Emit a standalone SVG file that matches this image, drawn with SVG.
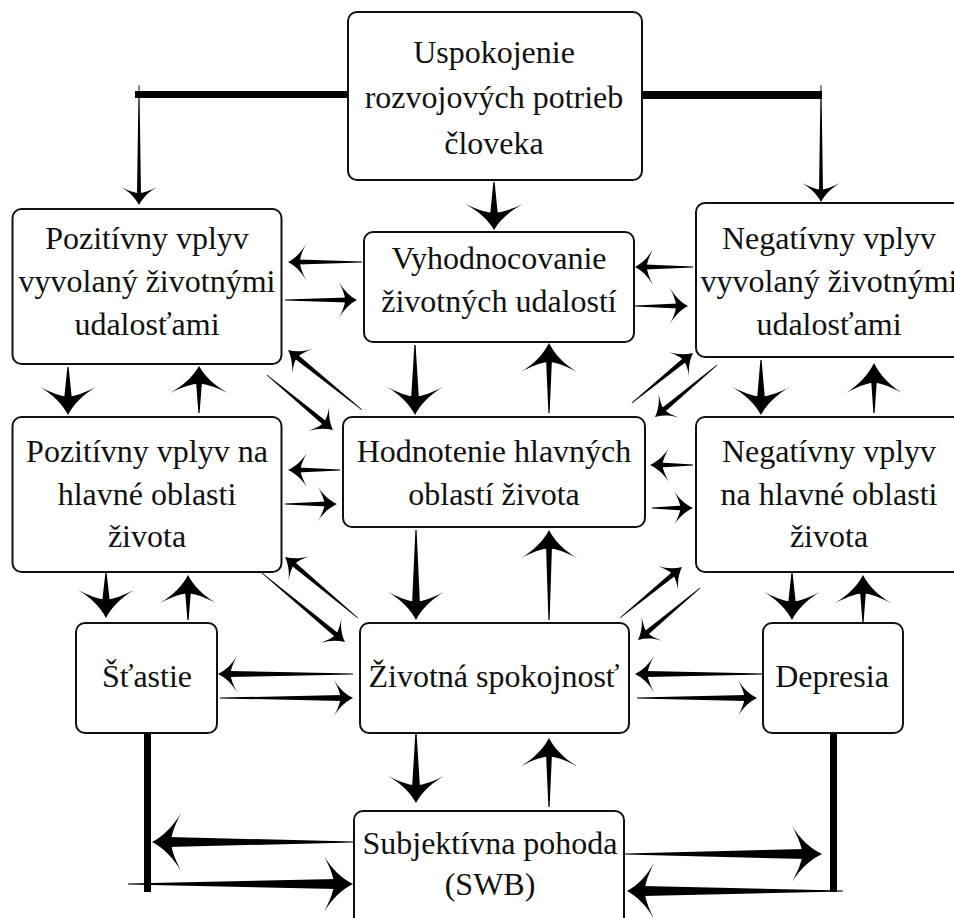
<svg xmlns="http://www.w3.org/2000/svg" xmlns:xlink="http://www.w3.org/1999/xlink" width="954" height="918" viewBox="0 0 954 918">
<style>
.box{fill:#fff;stroke:#111;stroke-width:2}
text{font-family:'Liberation Serif','Times New Roman',serif;font-size:32px;fill:#111;text-anchor:middle}
.c{fill:#000}
</style>
<defs>
<path id="h" d="M0,0 C-0.38,-0.2 -0.72,-0.52 -1,-1 C-0.8,-0.6 -0.68,-0.3 -0.65,0 C-0.68,0.3 -0.8,0.6 -1,1 C-0.72,0.52 -0.38,0.2 0,0Z"/>
</defs>
<rect width="954" height="918" fill="#fff"/>

<g id="connectors" class="c">
<rect x="135" y="91" width="213" height="7"/>
<rect x="642" y="91" width="180" height="8"/>
<rect x="144" y="733" width="7" height="159"/>
<rect x="830" y="730" width="7" height="162"/>
<g transform="translate(139,205) rotate(90)"><path d="M-120,-0.4 L-10,-2 L-10,2 L-120,0.4Z"/><use xlink:href="#h" transform="scale(18,18)"/></g>
<g transform="translate(821,202) rotate(90)"><path d="M-117,-0.4 L-10,-2 L-10,2 L-117,0.4Z"/><use xlink:href="#h" transform="scale(19,19)"/></g>
<g transform="translate(494,230) rotate(90)"><path d="M-48,-0.6 L-14,-4 L-14,4 L-48,0.6Z"/><use xlink:href="#h" transform="scale(26,29)"/></g>
<g transform="translate(288,262) rotate(180)"><path d="M-74,-0.4 L-10,-2.5 L-10,2.5 L-74,0.4Z"/><use xlink:href="#h" transform="scale(18,18)"/></g>
<g transform="translate(357,300)"><path d="M-72,-0.4 L-10,-2.5 L-10,2.5 L-72,0.4Z"/><use xlink:href="#h" transform="scale(18,18)"/></g>
<g transform="translate(635,267) rotate(180)"><path d="M-58,-0.4 L-10,-2.5 L-10,2.5 L-58,0.4Z"/><use xlink:href="#h" transform="scale(18,18)"/></g>
<g transform="translate(688,306)"><path d="M-53,-0.4 L-10,-2.5 L-10,2.5 L-53,0.4Z"/><use xlink:href="#h" transform="scale(18,18)"/></g>
<g transform="translate(68,415) rotate(90)"><path d="M-48,-0.6 L-15,-4 L-15,4 L-48,0.6Z"/><use xlink:href="#h" transform="scale(28,28)"/></g>
<g transform="translate(199,366) rotate(-90)"><path d="M-47,-0.6 L-15,-3 L-15,3 L-47,0.6Z"/><use xlink:href="#h" transform="scale(27,29)"/></g>
<g transform="translate(415,415) rotate(90)"><path d="M-70,-0.6 L-15,-4 L-15,4 L-70,0.6Z"/><use xlink:href="#h" transform="scale(28,28)"/></g>
<g transform="translate(549,343) rotate(-90)"><path d="M-70,-0.6 L-15,-3 L-15,3 L-70,0.6Z"/><use xlink:href="#h" transform="scale(29,28)"/></g>
<g transform="translate(761,415) rotate(90)"><path d="M-55,-0.6 L-15,-4 L-15,4 L-55,0.6Z"/><use xlink:href="#h" transform="scale(28,29)"/></g>
<g transform="translate(874,363) rotate(-90)"><path d="M-50,-0.6 L-15,-3 L-15,3 L-50,0.6Z"/><use xlink:href="#h" transform="scale(30,28)"/></g>
<g transform="translate(288,350) rotate(219)"><path d="M-95,-0.4 L-10,-2.5 L-10,2.5 L-95,0.4Z"/><use xlink:href="#h" transform="scale(18,16)"/></g>
<g transform="translate(333,430) rotate(39.8)"><path d="M-86,-0.4 L-10,-2.5 L-10,2.5 L-86,0.4Z"/><use xlink:href="#h" transform="scale(18,16)"/></g>
<g transform="translate(693,353) rotate(-39.3)"><path d="M-79,-0.4 L-10,-2.5 L-10,2.5 L-79,0.4Z"/><use xlink:href="#h" transform="scale(18,16)"/></g>
<g transform="translate(655,417) rotate(140)"><path d="M-81,-0.4 L-10,-2.5 L-10,2.5 L-81,0.4Z"/><use xlink:href="#h" transform="scale(18,16)"/></g>
<g transform="translate(288,470) rotate(180)"><path d="M-52,-0.4 L-10,-2.5 L-10,2.5 L-52,0.4Z"/><use xlink:href="#h" transform="scale(19,17)"/></g>
<g transform="translate(337,504)"><path d="M-52,-0.4 L-10,-2.5 L-10,2.5 L-52,0.4Z"/><use xlink:href="#h" transform="scale(19,17)"/></g>
<g transform="translate(650,465) rotate(180)"><path d="M-43,-0.4 L-10,-2.5 L-10,2.5 L-43,0.4Z"/><use xlink:href="#h" transform="scale(19,17)"/></g>
<g transform="translate(693,508)"><path d="M-41,-0.4 L-10,-2.5 L-10,2.5 L-41,0.4Z"/><use xlink:href="#h" transform="scale(19,17)"/></g>
<g transform="translate(106,618) rotate(90)"><path d="M-45,-0.6 L-15,-4 L-15,4 L-45,0.6Z"/><use xlink:href="#h" transform="scale(28,28)"/></g>
<g transform="translate(188,575) rotate(-90)"><path d="M-45,-0.6 L-15,-3 L-15,3 L-45,0.6Z"/><use xlink:href="#h" transform="scale(28,28)"/></g>
<g transform="translate(416,620) rotate(90)"><path d="M-90,-0.6 L-15,-4 L-15,4 L-90,0.6Z"/><use xlink:href="#h" transform="scale(28,28)"/></g>
<g transform="translate(549,530) rotate(-90)"><path d="M-90,-0.6 L-15,-3 L-15,3 L-90,0.6Z"/><use xlink:href="#h" transform="scale(28,28)"/></g>
<g transform="translate(792,620) rotate(90)"><path d="M-47,-0.6 L-15,-4 L-15,4 L-47,0.6Z"/><use xlink:href="#h" transform="scale(28,28)"/></g>
<g transform="translate(863,575) rotate(-90)"><path d="M-47,-0.6 L-15,-3 L-15,3 L-47,0.6Z"/><use xlink:href="#h" transform="scale(28,28)"/></g>
<g transform="translate(285,557) rotate(219.9)"><path d="M-95,-0.4 L-10,-2.5 L-10,2.5 L-95,0.4Z"/><use xlink:href="#h" transform="scale(18,16)"/></g>
<g transform="translate(345,642) rotate(39.7)"><path d="M-108,-0.4 L-10,-2.5 L-10,2.5 L-108,0.4Z"/><use xlink:href="#h" transform="scale(18,16)"/></g>
<g transform="translate(682,567) rotate(-39.4)"><path d="M-80,-0.4 L-10,-2.5 L-10,2.5 L-80,0.4Z"/><use xlink:href="#h" transform="scale(18,16)"/></g>
<g transform="translate(638,640) rotate(140)"><path d="M-81,-0.4 L-10,-2.5 L-10,2.5 L-81,0.4Z"/><use xlink:href="#h" transform="scale(18,16)"/></g>
<g transform="translate(218,674) rotate(180)"><path d="M-135,-0.4 L-11,-3 L-11,3 L-135,0.4Z"/><use xlink:href="#h" transform="scale(19,18)"/></g>
<g transform="translate(353,698)"><path d="M-133,-0.4 L-11,-3 L-11,3 L-133,0.4Z"/><use xlink:href="#h" transform="scale(19,18)"/></g>
<g transform="translate(635,674) rotate(180)"><path d="M-133,-0.4 L-11,-3 L-11,3 L-133,0.4Z"/><use xlink:href="#h" transform="scale(19,18)"/></g>
<g transform="translate(757,698)"><path d="M-120,-0.4 L-11,-3 L-11,3 L-120,0.4Z"/><use xlink:href="#h" transform="scale(19,18)"/></g>
<g transform="translate(416,803) rotate(90)"><path d="M-70,-0.6 L-15,-4 L-15,4 L-70,0.6Z"/><use xlink:href="#h" transform="scale(27,28)"/></g>
<g transform="translate(549,738) rotate(-90)"><path d="M-69,-0.6 L-15,-3 L-15,3 L-69,0.6Z"/><use xlink:href="#h" transform="scale(28,28)"/></g>
<g transform="translate(152,842) rotate(180)"><path d="M-201,-0.5 L-16,-5 L-16,5 L-201,0.5Z"/><use xlink:href="#h" transform="scale(29,29)"/></g>
<g transform="translate(353,884)"><path d="M-225,-0.5 L-16,-5 L-16,5 L-225,0.5Z"/><use xlink:href="#h" transform="scale(29,28)"/></g>
<g transform="translate(822,854)"><path d="M-197,-0.5 L-16,-5 L-16,5 L-197,0.5Z"/><use xlink:href="#h" transform="scale(30,28)"/></g>
<g transform="translate(627,891) rotate(180)"><path d="M-216,-0.5 L-16,-5 L-16,5 L-216,0.5Z"/><use xlink:href="#h" transform="scale(27,28)"/></g>
</g>

<g id="n1"><rect class="box" x="348" y="12" width="294" height="168" rx="9"/>
<text x="494" y="63">Uspokojenie</text><text x="494" y="108">rozvojových potrieb</text><text x="494" y="154">človeka</text></g>
<g id="n2"><rect class="box" x="12.5" y="209" width="269" height="155" rx="9"/>
<text x="147" y="249">Pozitívny vplyv</text><text x="147" y="292">vyvolaný životnými</text><text x="147" y="335">udalosťami</text></g>
<g id="n3"><rect class="box" x="364" y="232" width="270" height="110" rx="9"/>
<text x="499" y="269">Vyhodnocovanie</text><text x="499" y="312">životných udalostí</text></g>
<g id="n4"><rect class="box" x="696" y="203" width="266" height="154" rx="9"/>
<text x="829" y="249">Negatívny vplyv</text><text x="829" y="292">vyvolaný životnými</text><text x="829" y="335">udalosťami</text></g>
<g id="n5"><rect class="box" x="12.5" y="417" width="269" height="155" rx="9"/>
<text x="147" y="462">Pozitívny vplyv na</text><text x="147" y="505">hlavné oblasti</text><text x="147" y="547">života</text></g>
<g id="n6"><rect class="box" x="343" y="417" width="302" height="110" rx="9"/>
<text x="494" y="462">Hodnotenie hlavných</text><text x="494" y="505">oblastí života</text></g>
<g id="n7"><rect class="box" x="696" y="417" width="266" height="155" rx="9"/>
<text x="829" y="462">Negatívny vplyv</text><text x="829" y="505">na hlavné oblasti</text><text x="829" y="547">života</text></g>
<g id="n8"><rect class="box" x="76" y="623" width="141" height="110" rx="9"/>
<text x="147" y="687">Šťastie</text></g>
<g id="n9"><rect class="box" x="360" y="623" width="269" height="110" rx="9"/>
<text x="494" y="687">Životná spokojnosť</text></g>
<g id="n10"><rect class="box" x="763" y="623" width="140" height="110" rx="9"/>
<text x="832" y="687">Depresia</text></g>
<g id="n11"><rect class="box" x="354" y="811" width="270" height="120" rx="9"/>
<text x="490" y="854">Subjektívna pohoda</text><text x="490" y="895">(SWB)</text></g>
</svg>
